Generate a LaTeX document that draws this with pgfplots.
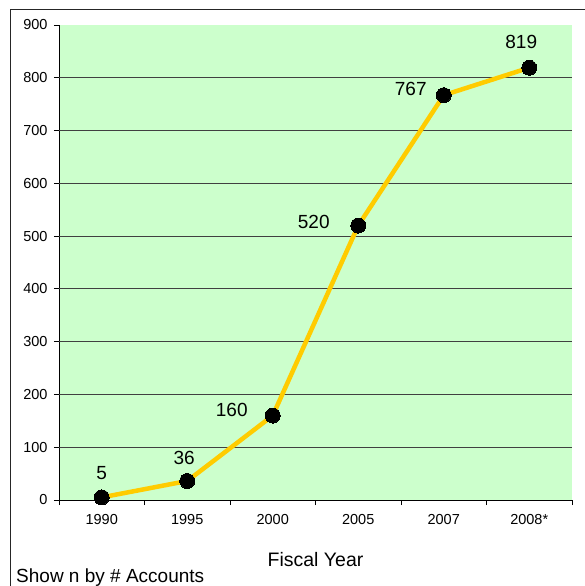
\documentclass[border=0pt]{standalone}
\usepackage{fontspec}
\setmainfont{Liberation Sans}
\usepackage{pgfplots}
\pgfplotsset{compat=1.18}
\definecolor{plotbg}{HTML}{CCFFCC}
\definecolor{gold}{HTML}{FFCC00}
\begin{document}
\begin{tikzpicture}
\path[use as bounding box] (-59pt,-86pt) rectangle (525pt,500pt);
\draw[black!85, line width=0.9pt] (-49pt,-90pt) -- (-49pt,491pt) -- (530pt,491pt);
\begin{axis}[
    scale only axis,
    width=513pt, height=475pt,
    xmin=-0.5, xmax=5.5,
    ymin=0, ymax=900,
    axis x line*=bottom, axis y line*=left,
    axis line style={black, line width=0.9pt, -},
    axis background/.style={fill=plotbg},
    xtick={0,1,2,3,4,5},
    xticklabels={1990,1995,2000,2005,2007,2008*},
    major x tick style={draw=none},
    minor xtick={-0.5,0.5,1.5,2.5,3.5,4.5,5.5},
    minor tick length=5pt,
    ytick={0,100,...,900},
    extra y ticks={100,200,...,800},
    extra y tick labels={},
    extra y tick style={grid=major, major tick length=0pt},
    grid style={black!75, line width=0.8pt},
    major tick length=5pt,
    tick align=outside,
    tick style={black, line width=0.8pt},
    /pgf/number format/assume math mode=true,
    ticklabel style={font=\fontsize{14.5}{17}\selectfont},
    xticklabel style={yshift=-6pt},
    yticklabel style={xshift=-3pt},
    xlabel={Fiscal Year},
    xlabel style={at={(axis description cs:0.5,0)}, anchor=center, yshift=-60pt,
        font=\fontsize{19.5}{22}\selectfont},
    clip=false,
]
\addplot[gold, line width=4.5pt, mark=*, mark size=7.5pt,
    mark options={fill=black, draw=black, line width=0pt},
    point meta=explicit symbolic,
    nodes near coords={\pgfplotspointmeta},
    visualization depends on={value \thisrow{dx} \as \dx},
    visualization depends on={value \thisrow{dy} \as \dy},
    every node near coord/.append style={anchor=center, text=black,
        font=\fontsize{19}{22}\selectfont, xshift=\dx pt, yshift=\dy pt},
] table[x=x, y=y, meta=lbl] {
x y   lbl dx   dy
0 5   5   0    24.5
1 36  36  -3   23
2 160 160 -41  6
3 520 520 -44.5 4
4 767 767 -33  6
5 819 819 -8   25.5
};
\end{axis}
\node[anchor=base west, font=\fontsize{19}{22}\selectfont, inner sep=0pt]
    at (-43pt,-82pt) {Show n by \# Accounts};
\end{tikzpicture}
\end{document}
